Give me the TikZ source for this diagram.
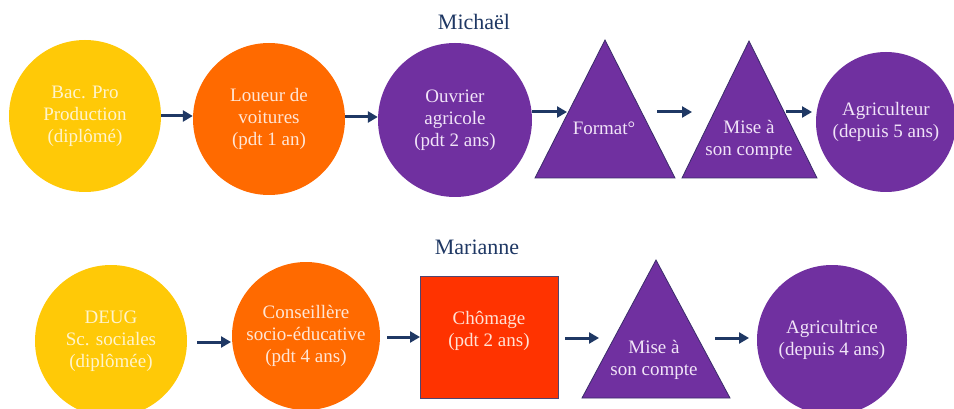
\documentclass[tikz,border=0pt]{standalone}
\usepackage{fontspec}
\setmainfont{Liberation Serif}
\usetikzlibrary{arrows.meta}
\definecolor{cyel}{HTML}{FFC907}
\definecolor{corg}{HTML}{FF6A00}
\definecolor{cpur}{HTML}{7030A0}
\definecolor{cred}{HTML}{FF3300}
\definecolor{cnavy}{HTML}{1F3864}
\definecolor{tyel}{HTML}{FFF4CC}
\definecolor{torg}{HTML}{FFE6D6}
\definecolor{tpur}{HTML}{F1E4F8}
\definecolor{tred}{HTML}{FFE2D6}
\definecolor{triedge}{HTML}{3A2C6A}
\begin{document}
\begin{tikzpicture}[x=1pt,y=-1pt,
  circ/.style={circle,inner sep=0pt,align=center,font=\rmfamily\fontsize{19}{22}\selectfont},
  lbl/.style={inner sep=0pt,align=center,font=\rmfamily\fontsize{19}{22}\selectfont,text=tpur},
  ttl/.style={inner sep=0pt,font=\rmfamily\fontsize{22}{26}\selectfont,text=cnavy},
  tri/.style={fill=cpur,draw=triedge,line width=0.8pt,line join=miter},
  arr/.style={draw=cnavy,line width=3pt,-{Triangle[length=10pt,width=11pt]}}]
\useasboundingbox (0,0) rectangle (954,409);
\fill[white] (0,0) rectangle (954,409);

% titles
\node[ttl] (tm) at (474,22) {Michaël};
\node[ttl] (tma) at (477,247) {Marianne};

% top row
\node[circ,fill=cyel,text=tyel,minimum size=152pt] (y1) at (85,116) {Bac. Pro\\Production\\(diplômé)};
\node[circ,fill=corg,text=torg,minimum size=152pt] (o1) at (269,119) {Loueur de\\voitures\\(pdt 1 an)};
\node[circ,fill=cpur,text=tpur,minimum size=154pt] (p1) at (455,120) {Ouvrier\\agricole\\(pdt 2 ans)};
\coordinate (t1a) at (605,40);
\coordinate (t1b) at (535,178);
\coordinate (t1c) at (675,178);
\path[tri] (t1a) -- (t1b) -- (t1c) -- cycle;
\node[lbl] (f1) at (604,128) {Format°};
\coordinate (t2a) at (749,41);
\coordinate (t2b) at (682,178);
\coordinate (t2c) at (817,178);
\path[tri] (t2a) -- (t2b) -- (t2c) -- cycle;
\node[lbl] (m1) at (749,140) {Mise à\\son compte};
\node[circ,fill=cpur,text=tpur,minimum size=140pt] (p2) at (886,122) {Agriculteur\\(depuis 5 ans)};

% bottom row
\node[circ,fill=cyel,text=tyel,minimum size=152pt] (y2) at (111,341) {DEUG\\Sc. sociales\\(diplômée)};
\node[circ,fill=corg,text=torg,minimum size=148pt] (o2) at (306,336) {Conseillère\\socio-éducative\\(pdt 4 ans)};
\node[fill=cred,draw=triedge!70!gray,line width=1pt,minimum width=138pt,minimum height=122pt,inner sep=0pt] (r2) at (489,337) {};
\node[lbl,text=tred] (r2l) at (489,331) {Chômage\\(pdt 2 ans)};
\coordinate (t3a) at (656,260);
\coordinate (t3b) at (582,398);
\coordinate (t3c) at (730,398);
\path[tri] (t3a) -- (t3b) -- (t3c) -- cycle;
\node[lbl] (m2) at (654,360) {Mise à\\son compte};
\node[circ,fill=cpur,text=tpur,minimum size=150pt] (p3) at (832,340) {Agricultrice\\(depuis 4 ans)};

% arrow end points
\coordinate (a3s) at (532,112); \coordinate (a3e) at (567,112);
\coordinate (a4s) at (657,112); \coordinate (a4e) at (692,112);
\coordinate (a5s) at (786,112); \coordinate (a5e) at (812,112);
\coordinate (b1s) at (197,342); \coordinate (b1e) at (231,342);
\coordinate (b2s) at (387,337); \coordinate (b2e) at (420,337);
\coordinate (b3s) at (565,338); \coordinate (b3e) at (599,338);
\coordinate (b4s) at (715,338); \coordinate (b4e) at (749,338);

% arrows
\draw[arr] (y1.east) -- (o1.west |- y1.east);
\draw[arr] (o1.east |- 0,117) -- (p1.west |- 0,117);
\draw[arr] (a3s) -- (a3e);
\draw[arr] (a4s) -- (a4e);
\draw[arr] (a5s) -- (a5e);
\draw[arr] (b1s) -- (b1e);
\draw[arr] (b2s) -- (b2e);
\draw[arr] (b3s) -- (b3e);
\draw[arr] (b4s) -- (b4e);
\end{tikzpicture}
\end{document}
